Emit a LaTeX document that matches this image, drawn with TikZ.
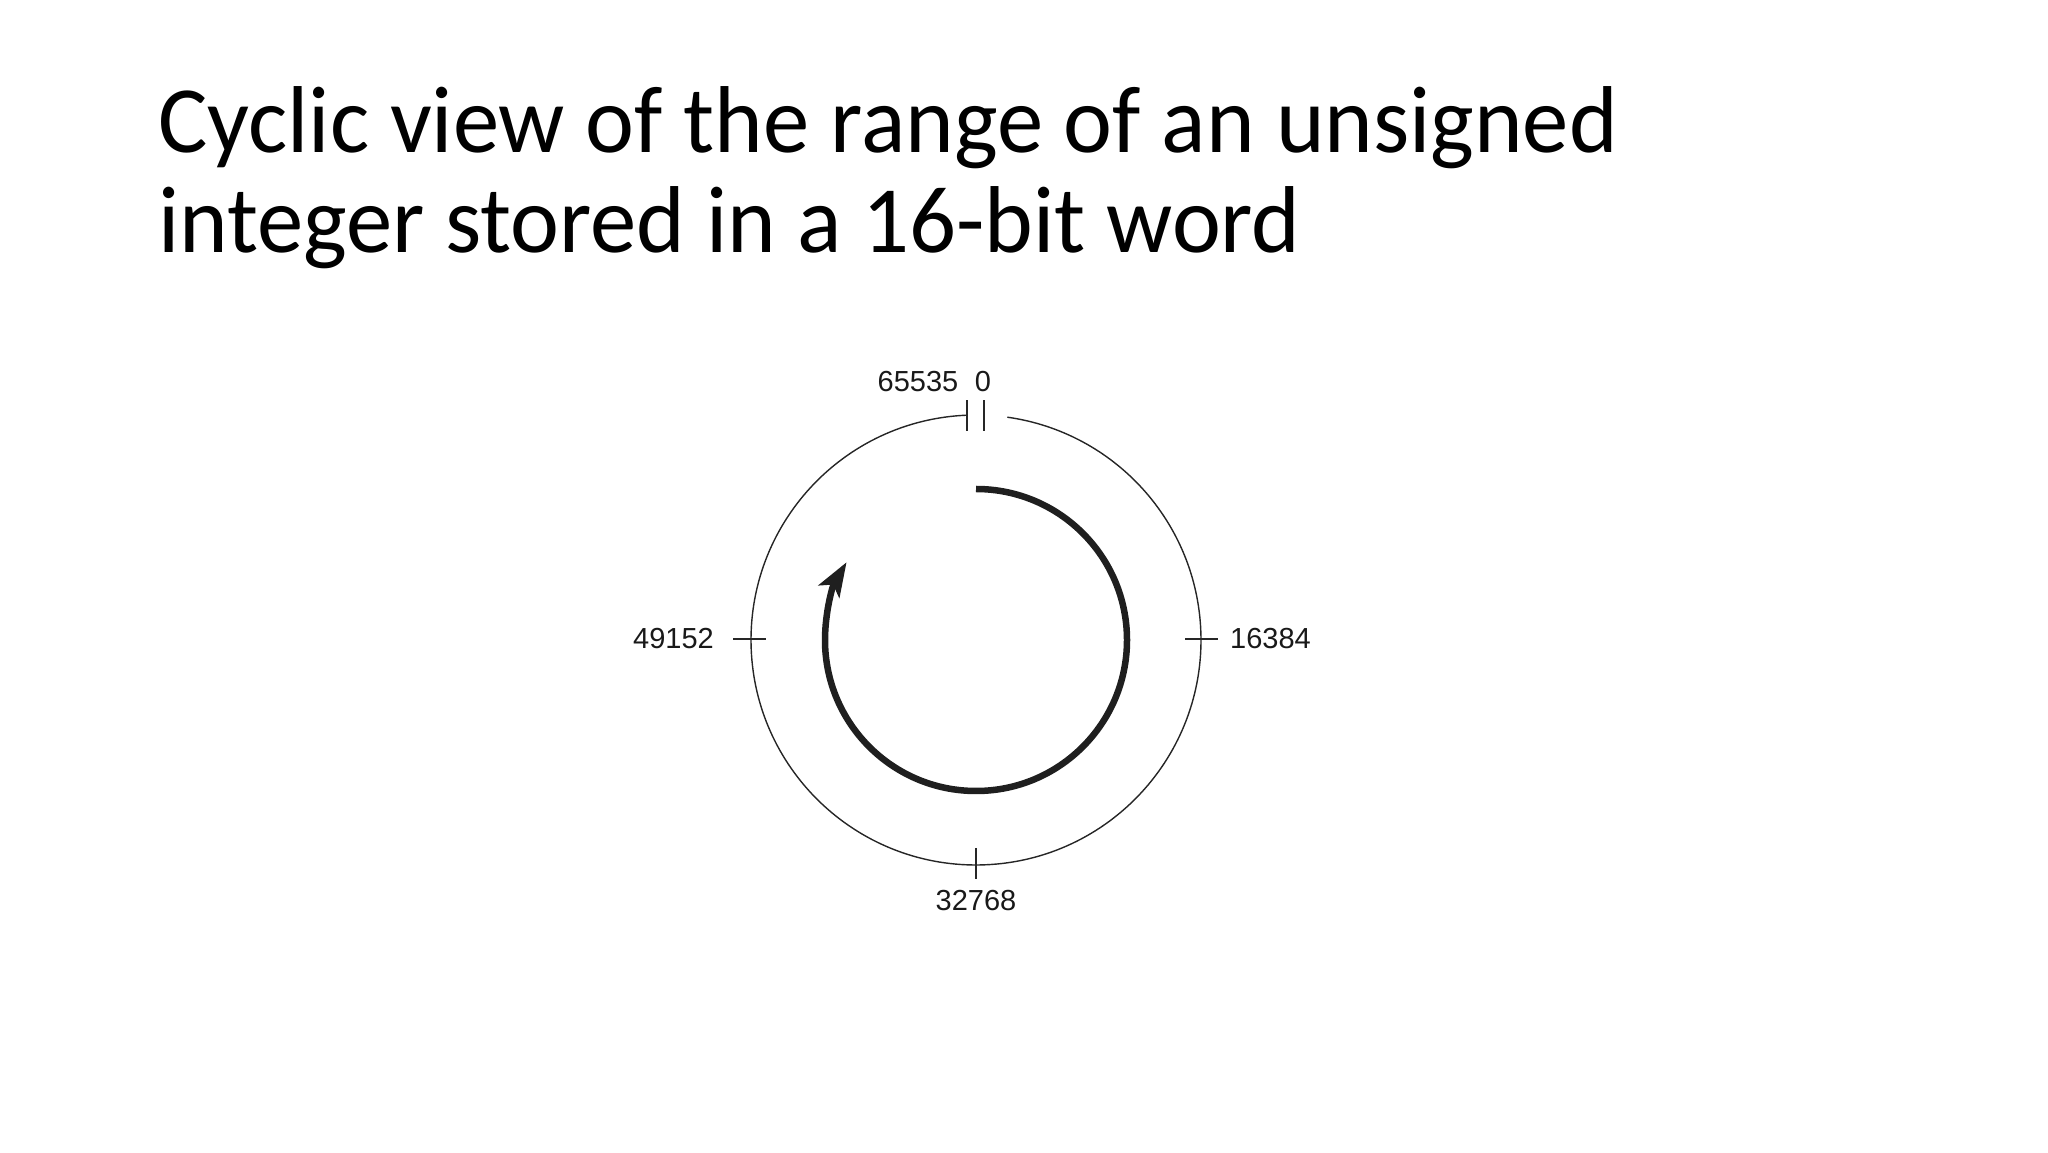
\documentclass[tikz,border=0pt]{standalone}
\usepackage{fontspec}
\setmainfont{Carlito}
\newfontfamily\titlefont[FakeStretch=0.975]{Carlito}
\newfontfamily\numfont{Liberation Sans}
\usetikzlibrary{arrows.meta}
\begin{document}
\begin{tikzpicture}[x=1pt,y=1pt,
 title/.style={anchor=base west, inner sep=0, font=\titlefont\fontsize{95}{95}\selectfont},
 num/.style={inner sep=0, font=\numfont\fontsize{29}{29}\selectfont, text=black!90},
 ring/.style={line width=1.4pt, draw=black!85},
 tickline/.style={line width=1.4pt, draw=black!85},
 sweep/.style={line width=6.5pt, draw=black!88, -{Stealth[length=34pt,width=24pt,inset=8pt]}}]
\useasboundingbox (0,0) rectangle (2048,1152);
\node[title] (t1) at (158,999) {Cyclic view of the range of an unsigned};
\node[title] (t2) at (158,899) {integer stored in a 16-bit word};
\coordinate (c) at (976,512);
\draw[ring] (c) ++(92.2:225) arc[start angle=92.2, end angle=442, radius=225];
\draw[tickline] (967,721) -- (967,752);
\draw[tickline] (984,721) -- (984,752);
\draw[tickline] (733,513) -- (766,513);
\draw[tickline] (1185,513) -- (1218,513);
\draw[tickline] (976,304) -- (976,273);
\node[num, anchor=base] (l65535) at (918,760) {65535};
\node[num, anchor=base] (l0) at (983,760) {0};
\node[num, anchor=base east] (l49152) at (714,503) {49152};
\node[num, anchor=base west] (l16384) at (1230,503) {16384};
\node[num, anchor=base] (l32768) at (976,242) {32768};
\draw[sweep] (c) ++(90:151) arc[start angle=90, end angle=-211, radius=151];
\end{tikzpicture}
\end{document}
